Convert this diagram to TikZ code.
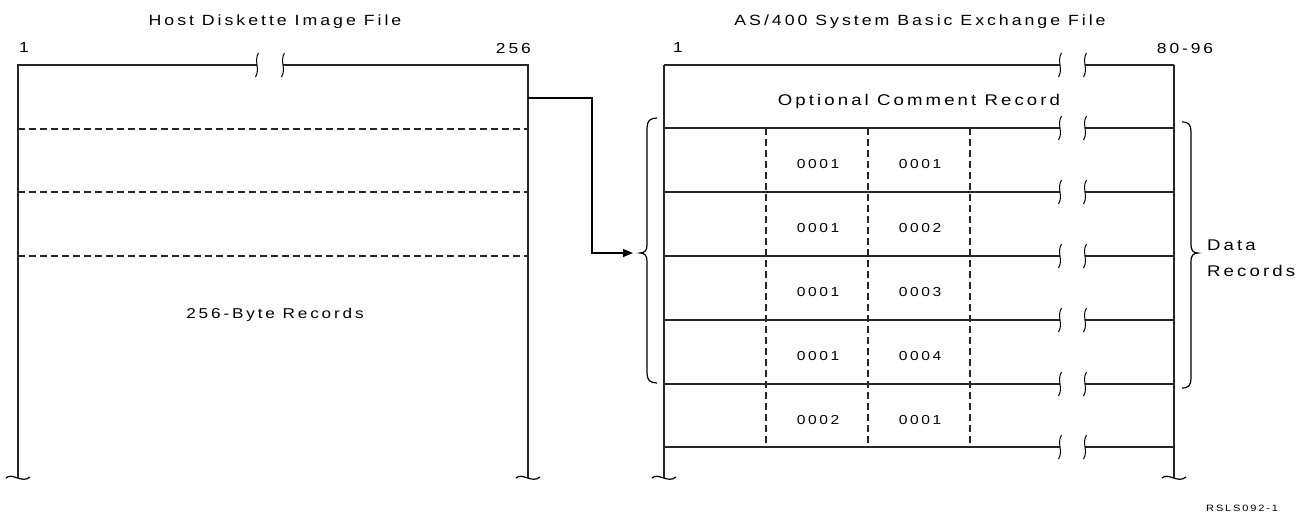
\documentclass[tikz,border=0pt]{standalone}
\usepackage{fontspec}
\setmainfont{Liberation Sans}[LetterSpace=20, FakeStretch=1.2]
\usetikzlibrary{arrows.meta}

\tikzset{
  frame/.style={line width=1.2pt, draw=black!85},
  sepline/.style={line width=1.2pt, draw=black!85, dash pattern=on 7pt off 4pt},
  txt/.style={inner sep=0pt, font=\fontsize{#1}{#1}\selectfont},
  txt/.default=14.8,
  vbrk/.pic={\draw[line width=1pt] (1.5,-12) .. controls (-3.5,-4) and (3.5,4) .. (-1.5,12);},
  hbrk/.pic={\draw[line width=1.2pt] (-12,0) .. controls (-6,-6) and (4,6) .. (12,-1);},
  brc/.style={line width=1.2pt}
}

\begin{document}
\begin{tikzpicture}[x=1pt,y=-1pt]
\useasboundingbox (0,0) rectangle (1304,512);

% ---------- titles ----------
\node[txt, anchor=base] (t1) at (275,25) {Host Diskette Image File};
\node[txt, anchor=base] (t2) at (920,25) {AS/400 System Basic Exchange File};

% ---------- left file ----------
\node[txt=14.5, anchor=base] (l1) at (24,52) {1};
\node[txt=14.5, anchor=base east] (l256) at (531,53) {256};

\coordinate (LTL) at (18,65);
\coordinate (LTR) at (528,65);
\coordinate (LBL) at (18,478);
\coordinate (LBR) at (528,478);

\draw[frame] (LBL) -- (LTL) -- (257,65);
\draw[frame] (283,65) -- (LTR) -- (LBR);
\pic at (257,65) {vbrk};
\pic at (283,65) {vbrk};
\pic at (LBL) {hbrk};
\pic at (LBR) {hbrk};

\foreach \y in {129,192,256}
  \draw[sepline] (18,\y) -- (528,\y);

\node[txt=14.3, anchor=base] (rec256) at (275,318) {256-Byte Records};

% ---------- right file ----------
\node[txt=14.5, anchor=base] (r1) at (678,52) {1};
\node[txt=14.5, anchor=base] (r8096) at (1185,53) {80-96};

\coordinate (RTL) at (664,65);
\coordinate (RTR) at (1174,65);
\coordinate (RBL) at (664,478);
\coordinate (RBR) at (1174,478);

\draw[frame] (RTL) -- (RBL);
\draw[frame] (RTR) -- (RBR);
\pic at (RBL) {hbrk};
\pic at (RBR) {hbrk};

\foreach \y in {65,128,192,256,320,384,447} {
  \draw[frame] (664,\y) -- (1060,\y);
  \draw[frame] (1085,\y) -- (1174,\y);
  \pic at (1060,\y) {vbrk};
  \pic at (1085,\y) {vbrk};
}

\foreach \x in {766,868,970}
  \draw[sepline] (\x,128) -- (\x,447);

\node[txt=15.5, anchor=base] (cmt) at (919,105) {Optional Comment Record};

\foreach \a/\b [count=\i] in {0001/0001,0001/0002,0001/0003,0001/0004,0002/0001} {
  \node[txt=13, anchor=base] (na\i) at (818,104+64*\i) {\a};
  \node[txt=13, anchor=base] (nb\i) at (920,104+64*\i) {\b};
}

% ---------- braces ----------
\draw[brc] (657,118) .. controls (650,118) and (647,121) .. (647,128)
  -- (647,245) .. controls (647,250) and (645,253) .. (640,253)
  coordinate (lbtip)
  .. controls (645,253) and (647,256) .. (647,261)
  -- (647,373) .. controls (647,380) and (650,383) .. (657,383);

\draw[brc] (1182,122) .. controls (1189,122) and (1191,125) .. (1191,132)
  -- (1191,245) .. controls (1191,250) and (1193,253) .. (1198,253)
  coordinate (rbtip)
  .. controls (1193,253) and (1191,256) .. (1191,261)
  -- (1191,378) .. controls (1191,385) and (1189,388) .. (1182,388);

\node[txt=15.5, anchor=base west] (dat) at (1207,250) {Data};
\node[txt=15.5, anchor=base west] (recs) at (1207,276) {Records};

% ---------- connector ----------
\coordinate (src) at (528,98);
\coordinate (dst) at (633,253);
\draw[line width=1.2pt, -{Triangle[length=10pt,width=8pt]}]
  (src) -- (592,98) |- (dst);

\node[txt=9.2, anchor=base west] (fig) at (1206,511) {RSLS092-1};
\end{tikzpicture}
\end{document}
